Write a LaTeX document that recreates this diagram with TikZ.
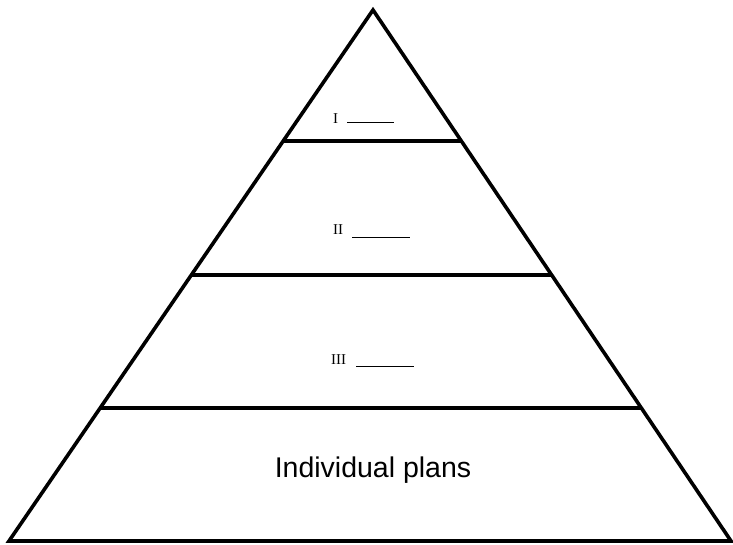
\documentclass[tikz,border=0pt]{standalone}
\usepackage{fontspec}
\setmainfont{Liberation Sans}
\newfontfamily\tierfont{Liberation Serif}
\usetikzlibrary{calc}
\tikzset{
  outline/.style = {line width=3.6pt, line join=miter},
  tierlabel/.style = {font=\tierfont\fontsize{15}{15}\selectfont, inner sep=0pt, anchor=base west},
  blank/.style = {line width=1pt}
}

\begin{document}
\begin{tikzpicture}[x=1pt,y=-1pt]
  \useasboundingbox (0,0) rectangle (733,545);
  % corners of the pyramid
  \coordinate (apex) at (373,10);
  \coordinate (baseL) at (9,541);
  \coordinate (baseR) at (731,541);
  % outline
  \draw[outline] (apex) -- (baseL) -- (baseR) -- cycle;
  % tiers
  \foreach \t in {0.2467,0.499,0.7495} {
    \draw[outline] ($(apex)!\t!(baseL)$) -- ($(apex)!\t!(baseR)$);
  }
  % tier labels
  \node[tierlabel] (lvlI) at (333,124) {I};
  \draw[blank] (347,123) -- (394,123);
  \node[tierlabel] (lvlII) at (333,235) {II};
  \draw[blank] (352,238) -- (410,238);
  \node[tierlabel] (lvlIII) at (331,364) {III};
  \draw[blank] (356,366) -- (414,366);
  % bottom tier
  \node[font=\fontsize{28.5}{30}\selectfont, inner sep=0pt, anchor=base] (plans) at (373,477) {Individual plans};
\end{tikzpicture}
\end{document}
